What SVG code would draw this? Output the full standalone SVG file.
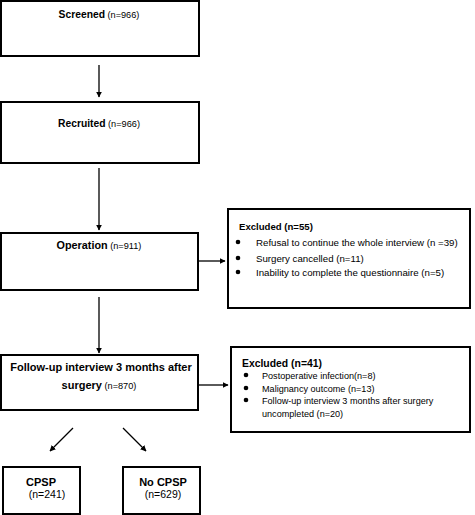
<svg xmlns="http://www.w3.org/2000/svg" width="475" height="515" viewBox="0 0 475 515">
<defs>
<marker id="ah" viewBox="0 0 10 10" refX="9" refY="5" markerWidth="6" markerHeight="6" orient="auto" markerUnits="userSpaceOnUse">
<path d="M0,0 L10,5 L0,10 z" fill="#000"/>
</marker>
<style>
.box{fill:#fff;stroke:#000;stroke-width:2}
.t{font-family:"Liberation Sans",Arial,sans-serif;font-size:9px;fill:#000}
.b{font-weight:bold;font-size:10.3px}
.s{font-size:9.2px}
.c{text-anchor:middle}
.con{stroke:#000;stroke-width:1.3;fill:none;marker-end:url(#ah)}
</style>
</defs>
<rect width="475" height="515" fill="#fff"/>
<g id="connectors">
<line class="con" x1="99" y1="65" x2="99" y2="97"/>
<line class="con" x1="99" y1="168" x2="99" y2="230"/>
<line class="con" x1="198" y1="261" x2="225" y2="261"/>
<line class="con" x1="99" y1="297" x2="99" y2="353"/>
<line class="con" x1="198" y1="385" x2="228" y2="385"/>
<line class="con" x1="73" y1="428" x2="50" y2="451"/>
<line class="con" x1="123" y1="428" x2="146" y2="451"/>
</g>
<g id="screened">
<rect class="box" x="1" y="1" width="198" height="55"/>
<text class="t c" x="99" y="18"><tspan class="b">Screened</tspan> <tspan class="s">(n=966)</tspan></text>
</g>
<g id="recruited">
<rect class="box" x="1" y="102" width="198" height="61"/>
<text class="t c" x="99" y="127"><tspan class="b">Recruited</tspan> <tspan class="s">(n=966)</tspan></text>
</g>
<g id="operation">
<rect class="box" x="1" y="233" width="197" height="57"/>
<text class="t c" x="99" y="249"><tspan class="b" style="font-size:10.8px">Operation</tspan> <tspan class="s">(n=911)</tspan></text>
</g>
<g id="excluded1">
<rect class="box" x="228" y="209" width="242" height="99"/>
<text class="t b" x="239" y="230" style="font-size:9.6px">Excluded (n=55)</text>
<circle cx="238" cy="242" r="2.3"/>
<circle cx="238" cy="258" r="2.3"/>
<circle cx="238" cy="272" r="2.3"/>
<text class="t" x="256" y="245.5" style="font-size:9.7px">Refusal to continue the whole interview (n =39)</text>
<text class="t" x="256" y="261.5" style="font-size:9.7px">Surgery cancelled (n=11)</text>
<text class="t" x="256" y="275.5" style="font-size:9.7px">Inability to complete the questionnaire (n=5)</text>
</g>
<g id="followup">
<rect class="box" x="1" y="355" width="197" height="55"/>
<text class="t c b" x="101" y="370.5" style="font-size:11px">Follow-up interview 3 months after</text>
<text class="t c" x="99" y="388.5"><tspan class="b" style="font-size:11px">surgery</tspan> <tspan class="s">(n=870)</tspan></text>
</g>
<g id="excluded2">
<rect class="box" x="231" y="347" width="239" height="85"/>
<text class="t b" x="242" y="366.5" style="font-size:10.4px">Excluded (n=41)</text>
<circle cx="246" cy="375" r="2.3"/>
<circle cx="246" cy="388" r="2.3"/>
<circle cx="246" cy="400" r="2.3"/>
<text class="t" x="262" y="378.5" style="font-size:9.1px">Postoperative infection(n=8)</text>
<text class="t" x="262" y="391.5" style="font-size:9.1px">Malignancy outcome (n=13)</text>
<text class="t" x="262" y="404" style="font-size:9.1px">Follow-up interview 3 months after surgery</text>
<text class="t" x="262" y="417" style="font-size:9.1px">uncompleted (n=20)</text>
</g>
<g id="cpsp">
<rect class="box" x="3" y="467" width="77" height="47"/>
<text class="t c b" x="41" y="485.5" style="font-size:11px">CPSP</text>
<text class="t c" x="47" y="497.5" style="font-size:10.5px">(n=241)</text>
</g>
<g id="nocpsp">
<rect class="box" x="123" y="467" width="77" height="47"/>
<text class="t c b" x="163" y="485.5" style="font-size:11px">No CPSP</text>
<text class="t c" x="163" y="497.5" style="font-size:10.5px">(n=629)</text>
</g>
</svg>
